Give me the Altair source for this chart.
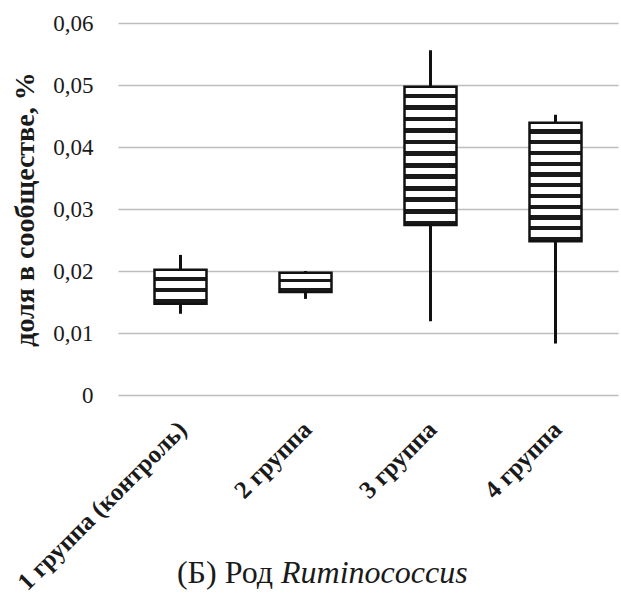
import altair as alt
import pandas as pd

groups = ["1 группа (контроль)", "2 группа", "3 группа", "4 группа"]
mins = [0.0131, 0.0155, 0.0119, 0.0083]
q1 = [0.0147, 0.0166, 0.0274, 0.0248]
q3 = [0.0202, 0.0197, 0.0497, 0.0439]
maxs = [0.0226, 0.0200, 0.0556, 0.0452]
y_ticks = [0, 0.01, 0.02, 0.03, 0.04, 0.05, 0.06]
title_plain = "(Б) Род"
title_italic = "Ruminococcus"

def stripes(span, period=0.0018, dark="#1a1a1a", light="#ffffff"):
    n = max(1, round(span / period))
    stops = []
    for i in range(n):
        a = i / n
        m = (i + 0.6) / n
        b = (i + 1) / n
        stops += [
            {"offset": a, "color": light},
            {"offset": m, "color": light},
            {"offset": m, "color": dark},
            {"offset": b, "color": dark},
        ]
    return {"gradient": "linear", "x1": 0, "y1": 0, "x2": 0, "y2": 1, "stops": stops}

df = pd.DataFrame({"group": groups, "min": mins, "q1": q1, "q3": q3, "max": maxs})
df["pattern"] = [stripes(b - a) for a, b in zip(q1, q3)]

FONT = "'Liberation Serif', 'Times New Roman', Tinos, 'DejaVu Serif', serif"

x = alt.X(
    "group:N",
    sort=groups,
    title=None,
    scale=alt.Scale(paddingInner=0, paddingOuter=0),
    axis=alt.Axis(
        labelAngle=-45,
        labelAlign="right",
        labelBaseline="middle",
        labelFont=FONT,
        labelFontSize=25,
        labelFontWeight="bold",
        labelColor="#1a1a1a",
        labelPadding=30,
        labelOffset=2,
        labelLimit=400,
        domain=False,
        ticks=False,
        grid=False,
    ),
)

y_axis = alt.Axis(
    values=y_ticks,
    labelExpr="datum.value == 0 ? '0' : replace(format(datum.value, '.2f'), '.', ',')",
    labelFont=FONT,
    labelFontSize=23,
    labelColor="#1a1a1a",
    labelPadding=25,
    domain=False,
    ticks=False,
    grid=True,
    gridColor="#bdbdbd",
    gridWidth=1.6,
    title="доля в сообществе, %",
    titleFont=FONT,
    titleFontSize=28,
    titleFontWeight="bold",
    titleColor="#1a1a1a",
    titleAngle=-90,
    titleAlign="center",
    titleBaseline="alphabetic",
    titleX=-85,
    titleY=186,
)

whisker = alt.Chart(df).mark_rule(color="#111111", strokeWidth=3).encode(
    x=x,
    y=alt.Y("min:Q", scale=alt.Scale(domain=[0, 0.06], nice=False), axis=y_axis),
    y2="max:Q",
)

box = alt.Chart(df).mark_bar(size=52, stroke="#111111", strokeWidth=2.5).encode(
    x=x,
    y="q1:Q",
    y2="q3:Q",
    fill=alt.Fill("pattern:N", scale=None),
)

t1 = alt.Chart(pd.DataFrame({"t": [title_plain]})).mark_text(
    font=FONT, fontSize=32, align="right", baseline="alphabetic", color="#1a1a1a"
).encode(text="t:N", x=alt.value(155), y=alt.value(560))

t2 = alt.Chart(pd.DataFrame({"t": [title_italic]})).mark_text(
    font=FONT, fontSize=32, fontStyle="italic", align="left", baseline="alphabetic", color="#1a1a1a"
).encode(text="t:N", x=alt.value(163), y=alt.value(560))

chart = alt.layer(whisker, box, t1, t2).properties(
    width=500,
    height=372,
    autosize=alt.AutoSizeParams(type="none"),
    padding={"left": 118, "top": 23, "right": 3, "bottom": 202},
    background="white",
).configure_view(stroke=None)

chart.save("out.html", embed_options={"renderer": "svg", "actions": False})
